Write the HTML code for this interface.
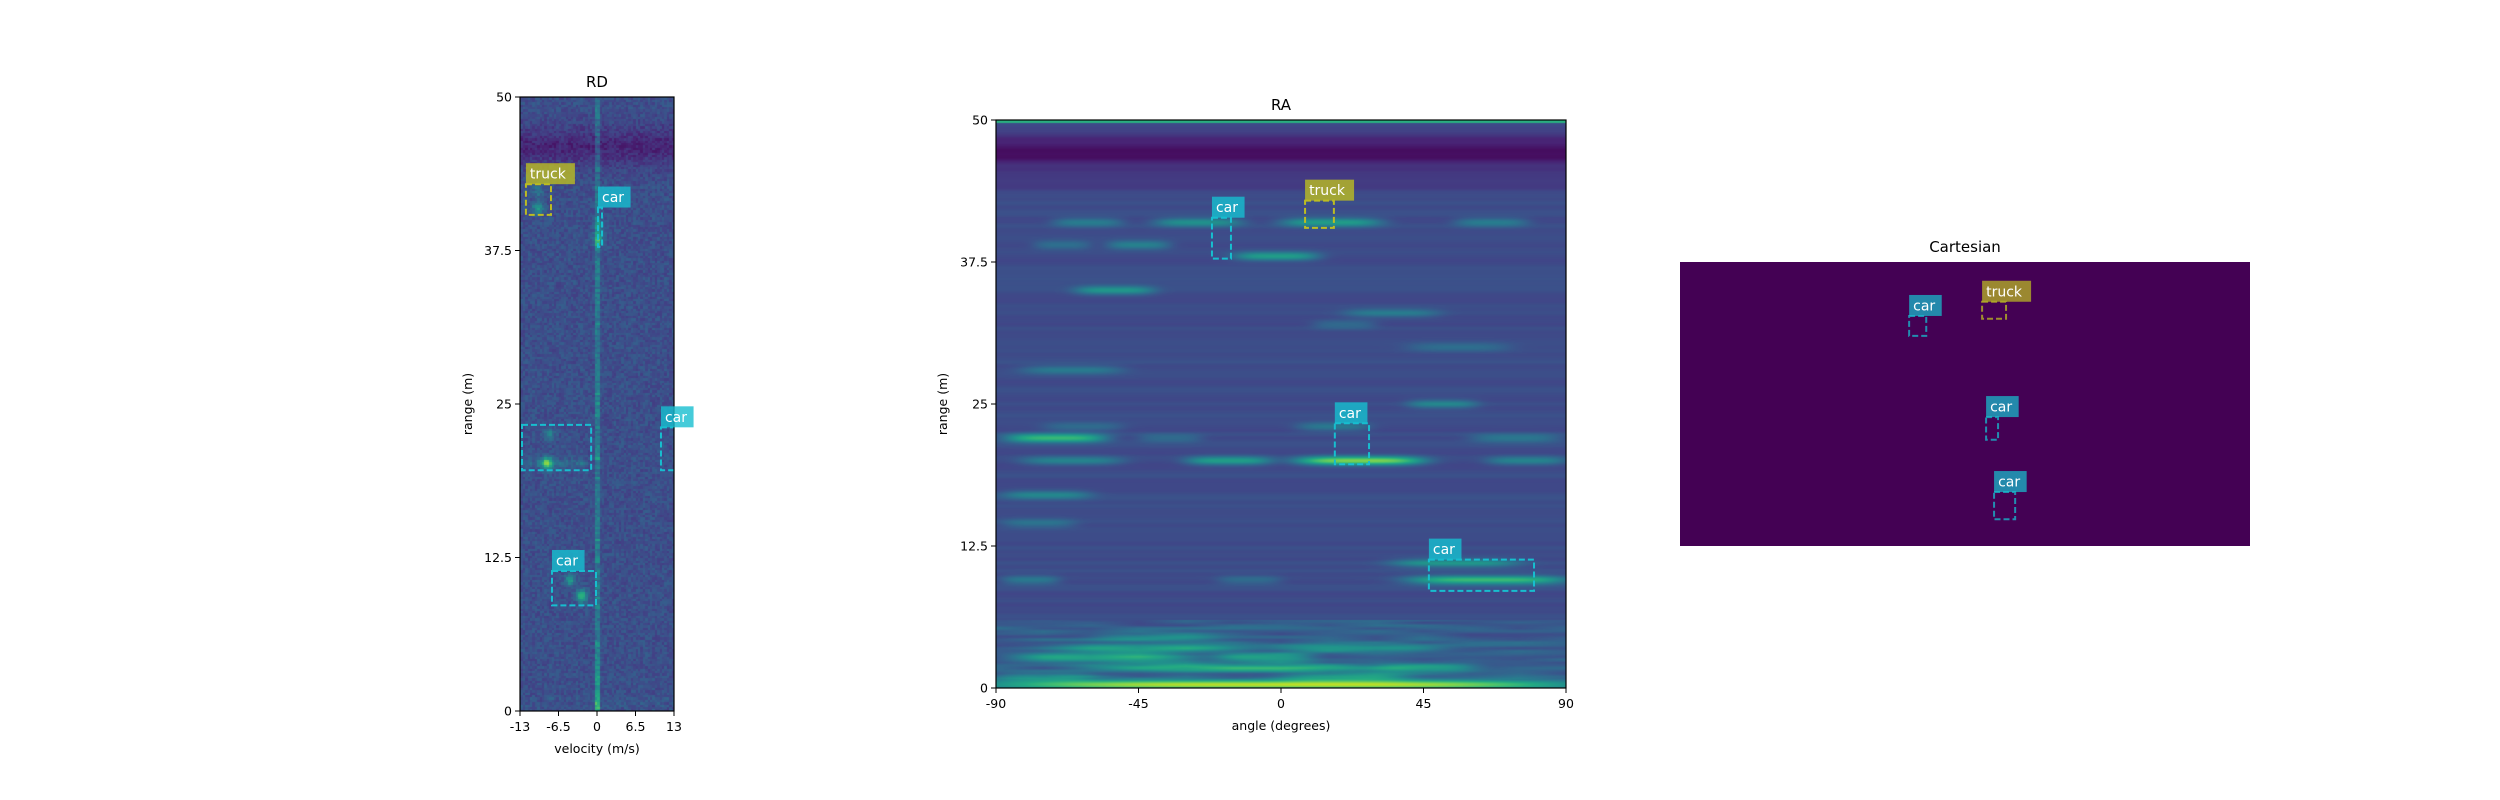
<!DOCTYPE html>
<html><head><meta charset="utf-8">
<style>
html,body{margin:0;padding:0;background:#fff;}
#root{position:relative;width:2500px;height:800px;overflow:hidden;font-family:"DejaVu Sans","Liberation Sans",sans-serif;}
canvas{position:absolute;}
svg{position:absolute;left:0;top:0;}
</style></head>
<body>
<div id="root">
<canvas id="rdc" width="154" height="614" style="left:520px;top:97px;width:154px;height:614px"></canvas>
<canvas id="rac" width="570" height="568" style="left:996px;top:120px;width:570px;height:568px"></canvas>
<div style="position:absolute;left:1680px;top:262px;width:570px;height:284px;background:#440154"></div>
<svg id="ov" width="2500" height="800" xmlns="http://www.w3.org/2000/svg"></svg>
</div>
<script>
// ---------- data ----------
const rdClasses = ["truck","car","car","car","car"];
const rdShowLabel = [true, true, false, true, true];
const rdVelMin = [-12.0, 0.17, -12.66, 10.8, -7.6];
const rdVelMax = [-7.77, 0.85, -0.99, 13.6, -0.17];
const rdRangeMin = [40.4, 37.8, 19.6, 19.6, 8.6];
const rdRangeMax = [42.9, 41.0, 23.3, 23.1, 11.4];
const rdBlobVel = [-8.5, -4.6, -2.6, -10.0, -10.0, 0.2, 0.2, -8.0];
const rdBlobRange = [20.2, 10.7, 9.4, 41.0, 42.4, 38.5, 39.6, 22.6];
const rdBlobAmp = [0.5, 0.3, 0.45, 0.3, 0.18, 0.3, 0.2, 0.18];

const raClasses = ["car","truck","car","car"];
const raAngMin = [-21.8, 7.6, 17.0, 46.7];
const raAngMax = [-15.8, 16.7, 27.8, 79.9];
const raRangeMin = [37.8, 40.5, 19.7, 8.55];
const raRangeMax = [41.4, 42.9, 23.3, 11.3];
const raStreakRange = [41,41,41,41,39,39,38,35,33,32,30,28,25,23,23,22,22,22,20,20,20,20,17,14.5,11,9.5,9.5,9.5,4.5,3.5,3.5,2.7,2.7,1.8,1.8,1,1,0.3];
const raStreakA0 = [-72,-40,0,55,-78,-55,-15,-65,20,10,40,-82,40,-75,5,-87,-45,60,-82,-30,5,65,-88,-88,35,-88,40,-20,-60,-70,0,-85,-20,-60,30,-90,0,-90];
const raStreakA1 = [-50,-12,32,78,-60,-35,12,-40,50,30,72,-50,62,-50,28,-55,-25,88,-50,-3,45,90,-60,-65,75,-70,90,0,-20,-10,50,-30,10,30,62,-60,40,90];
const raStreakAmp = [0.2,0.28,0.33,0.2,0.15,0.22,0.33,0.28,0.18,0.13,0.13,0.18,0.22,0.13,0.18,0.45,0.13,0.18,0.22,0.33,0.58,0.22,0.22,0.15,0.28,0.18,0.45,0.13,0.2,0.28,0.25,0.33,0.28,0.33,0.28,0.2,0.22,0.62];

const cartClasses = ["car","truck","car","car"];
const cartXMin = [-9.8, 3.0, 3.7, 5.1];
const cartXMax = [-6.8, 7.2, 5.8, 8.8];
const cartYMin = [37.0, 40.0, 18.7, 4.7];
const cartYMax = [40.5, 43.0, 22.7, 9.5];

const rdVelTicks = [-13, -6.5, 0, 6.5, 13];
const rdVelTickLabels = ["-13","-6.5","0","6.5","13"];
const rangeTicks = [0, 12.5, 25, 37.5, 50];
const rangeTickLabels = ["0","12.5","25","37.5","50"];
const raAngTicks = [-90, -45, 0, 45, 90];
const raAngTickLabels = ["-90","-45","0","45","90"];

// ---------- axes ----------
const RD = {x0:520,x1:674,y0:97,y1:711};
const RA = {x0:996,x1:1566,y0:120,y1:688};
const CA = {x0:1680,x1:2250,y0:262,y1:546};
const rdX = v => RD.x0 + (v+13)/26*(RD.x1-RD.x0);
const rdY = r => RD.y1 - r/50*(RD.y1-RD.y0);
const raX = a => RA.x0 + (a+90)/180*(RA.x1-RA.x0);
const raY = r => RA.y1 - r/50*(RA.y1-RA.y0);
const caX = x => CA.x0 + (x+50)/100*(CA.x1-CA.x0);
const caY = y => CA.y1 - y/50*(CA.y1-CA.y0);

// ---------- viridis ----------
const VS=[[68,1,84],[72,36,117],[65,68,135],[53,95,141],[42,120,142],[33,145,140],[34,168,132],[68,191,112],[122,209,81],[189,223,38],[253,231,37]];
function vir(t){t=Math.max(0,Math.min(1,t))*10;const i=Math.min(9,Math.floor(t)),f=t-i;const a=VS[i],b=VS[i+1];return [a[0]+(b[0]-a[0])*f,a[1]+(b[1]-a[1])*f,a[2]+(b[2]-a[2])*f];}
function hash(i,j){let h=(i*374761393+j*668265263)^0x5bd1e995;h=(h^(h>>>13))*1274126177;h=h^(h>>>16);return ((h>>>0)%10000)/10000;}

// RD heatmap
(function(){
  const c=document.getElementById('rdc'),ctx=c.getContext('2d'),W=154,H=614;
  const img=ctx.createImageData(W,H);
  for(let y=0;y<H;y++){for(let x=0;x<W;x++){
    const bi=Math.floor(x/2.4),bj=Math.floor(y/2.4);
    const v=-13+(bi+0.5)*2.4/W*26, r=50-(bj+0.5)*2.4/H*50;
    let t=0.24+(hash(bi,bj)-0.5)*0.12;
    t-=0.13*Math.exp(-Math.pow((r-46)/1.6,2));
    if(r<1.2) t+=0.06*(hash(bi+7,bj)-0.3);
    if(Math.abs(v)<0.25) t+=0.1+hash(bj,3)*0.12*(hash(bj,5)>0.85?2:1)+(r<6?0.2*(1-r/6):0);
    for(let k=0;k<rdBlobVel.length;k++){const dv=(v-rdBlobVel[k])/0.9,dr=(r-rdBlobRange[k])/0.5;t+=rdBlobAmp[k]*Math.exp(-(dv*dv+dr*dr));}
    t+=0.1*Math.exp(-Math.pow((r-20.2)/0.35,2))*(v<-1.5?1:0)*(0.5+hash(bi,1));
    const col=vir(t),p=(y*W+x)*4;img.data[p]=col[0];img.data[p+1]=col[1];img.data[p+2]=col[2];img.data[p+3]=255;}}
  ctx.putImageData(img,0,0);
})();

// RA heatmap
(function(){
  const c=document.getElementById('rac'),ctx=c.getContext('2d'),W=570,H=568;
  const img=ctx.createImageData(W,H);
  for(let y=0;y<H;y++){
    const r=50-(y+0.5)/H*50;const rf=r*3, rb=Math.floor(rf), fr=rf-rb;
    const n0=hash(rb,11),n1=hash(rb+1,11);
    let base=0.23+((n0*(1-fr)+n1*fr)-0.5)*0.05;
    base-=0.2*Math.exp(-Math.pow((r-47.2)/1.5,2));
    base-=0.05*Math.exp(-Math.pow((r-44.3)/0.8,2));
    if(r>49.75) base=0.62;
    if(r<6) base+=0.05;
    for(let x=0;x<W;x++){
      const a=-90+(x+0.5)/W*180;
      let t=base;
      for(let k=0;k<raStreakRange.length;k++){
        const dr=(r-raStreakRange[k])/0.4;if(Math.abs(dr)>3)continue;
        const a0=raStreakA0[k],a1=raStreakA1[k],mid=(a0+a1)/2,hw=(a1-a0)/2;
        const da=(a-mid)/hw;t+=raStreakAmp[k]*Math.exp(-dr*dr)*Math.exp(-Math.pow(da,4));}
      if(r<6&&r>0.8){const q=r*4,qb=Math.floor(q),qf=q-qb;const ab=a/15,ai=Math.floor(ab),af=ab-ai;
        const h=(hash(qb,ai)*(1-af)+hash(qb,ai+1)*af)*(1-qf)+(hash(qb+1,ai)*(1-af)+hash(qb+1,ai+1)*af)*qf;
        t+=0.14*(h-0.4);}
      const col=vir(t),p=(y*W+x)*4;img.data[p]=col[0];img.data[p+1]=col[1];img.data[p+2]=col[2];img.data[p+3]=255;}}
  ctx.putImageData(img,0,0);
})();

// ---------- overlay ----------
const NS='http://www.w3.org/2000/svg',ov=document.getElementById('ov');
function mk(tag,attrs,parent){const e=document.createElementNS(NS,tag);for(const k in attrs)e.setAttribute(k,attrs[k]);(parent||ov).appendChild(e);return e;}
const COL={car:'#17becf',truck:'#bcbd22'};
function label(x,yb,txt,cls,op,name){
  const w=txt.length*8.2+8;
  const g=mk('g',{});
  
  
  mk('rect',{x:x,y:yb-21,width:w,height:21,fill:COL[cls],'fill-opacity':op},g);
  const t=mk('text',{x:x+4,y:yb-5.5,fill:'#fff','font-size':14},g);t.textContent=txt;
}
function box(x0,y0,x1,y1,cls,clip,op,name){
  const r=mk('rect',{x:Math.min(x0,x1),y:Math.min(y0,y1),width:Math.abs(x1-x0),height:Math.abs(y1-y0),fill:'none',stroke:COL[cls],'stroke-width':2,'stroke-dasharray':'6 3','stroke-opacity':op,'clip-path':clip});
  
  
}
const defs=mk('defs',{});
const cp1=mk('clipPath',{id:'clipRD'},defs);mk('rect',{x:RD.x0,y:RD.y0,width:RD.x1-RD.x0,height:RD.y1-RD.y0},cp1);
const cp2=mk('clipPath',{id:'clipRA'},defs);mk('rect',{x:RA.x0,y:RA.y0,width:RA.x1-RA.x0,height:RA.y1-RA.y0},cp2);

function txt(x,y,s,size,anchor,name,rot){const t=mk('text',{x:x,y:y,'font-size':size,'text-anchor':anchor||'middle',fill:'#000'});if(rot)t.setAttribute('transform','rotate(-90 '+x+' '+y+')');t.textContent=s;return t;}

function axesFrame(A,name){const r=mk('rect',{x:A.x0,y:A.y0,width:A.x1-A.x0,height:A.y1-A.y0,fill:'none',stroke:'#000','stroke-width':1.2});}

// RD
for(let i=0;i<rdClasses.length;i++){
  box(rdX(rdVelMin[i]),rdY(rdRangeMax[i]),rdX(rdVelMax[i]),rdY(rdRangeMin[i]),rdClasses[i],'url(#clipRD)',1,'rd-box-'+i);
}
axesFrame(RD,'rd-axes-frame');
for(let i=0;i<rdClasses.length;i++){if(rdShowLabel[i])label(rdX(rdVelMin[i]),rdY(rdRangeMax[i]),rdClasses[i],rdClasses[i],0.8,'rd-label-'+i);}
rdVelTicks.forEach((v,i)=>{const x=rdX(v);mk('line',{x1:x,y1:RD.y1,x2:x,y2:RD.y1+5,stroke:'#000'});txt(x,RD.y1+20,rdVelTickLabels[i],12.5,'middle','rd-x-tick-label');});
rangeTicks.forEach((r,i)=>{const y=rdY(r);mk('line',{x1:RD.x0-5,y1:y,x2:RD.x0,y2:y,stroke:'#000'});txt(RD.x0-8,y+4.5,rangeTickLabels[i],12.5,'end','rd-y-tick-label');});
txt((RD.x0+RD.x1)/2,RD.y1+42,'velocity (m/s)',12.5,'middle','rd-x-axis-title');
txt(472,(RD.y0+RD.y1)/2,'range (m)',12.5,'middle','rd-y-axis-title',true);
txt((RD.x0+RD.x1)/2,RD.y0-10,'RD',15,'middle','rd-title');

// RA
for(let i=0;i<raClasses.length;i++){
  box(raX(raAngMin[i]),raY(raRangeMax[i]),raX(raAngMax[i]),raY(raRangeMin[i]),raClasses[i],'url(#clipRA)',1,'ra-box-'+i);
}
axesFrame(RA,'ra-axes-frame');
for(let i=0;i<raClasses.length;i++){label(raX(raAngMin[i]),raY(raRangeMax[i]),raClasses[i],raClasses[i],0.8,'ra-label-'+i);}
raAngTicks.forEach((a,i)=>{const x=raX(a);mk('line',{x1:x,y1:RA.y1,x2:x,y2:RA.y1+5,stroke:'#000'});txt(x,RA.y1+20,raAngTickLabels[i],12.5,'middle','ra-x-tick-label');});
rangeTicks.forEach((r,i)=>{const y=raY(r);mk('line',{x1:RA.x0-5,y1:y,x2:RA.x0,y2:y,stroke:'#000'});txt(RA.x0-8,y+4.5,rangeTickLabels[i],12.5,'end','ra-y-tick-label');});
txt((RA.x0+RA.x1)/2,RA.y1+42,'angle (degrees)',12.5,'middle','ra-x-axis-title');
txt(947,(RA.y0+RA.y1)/2,'range (m)',12.5,'middle','ra-y-axis-title',true);
txt((RA.x0+RA.x1)/2,RA.y0-10,'RA',15,'middle','ra-title');

// Cartesian
for(let i=0;i<cartClasses.length;i++){
  box(caX(cartXMin[i]),caY(cartYMax[i]),caX(cartXMax[i]),caY(cartYMin[i]),cartClasses[i],'',0.75,'cart-box-'+i);
  label(caX(cartXMin[i]),caY(cartYMax[i]),cartClasses[i],cartClasses[i],0.72,'cart-label-'+i);
}
txt((CA.x0+CA.x1)/2,CA.y0-10,'Cartesian',15,'middle','cartesian-title');
</script>
</body></html>
